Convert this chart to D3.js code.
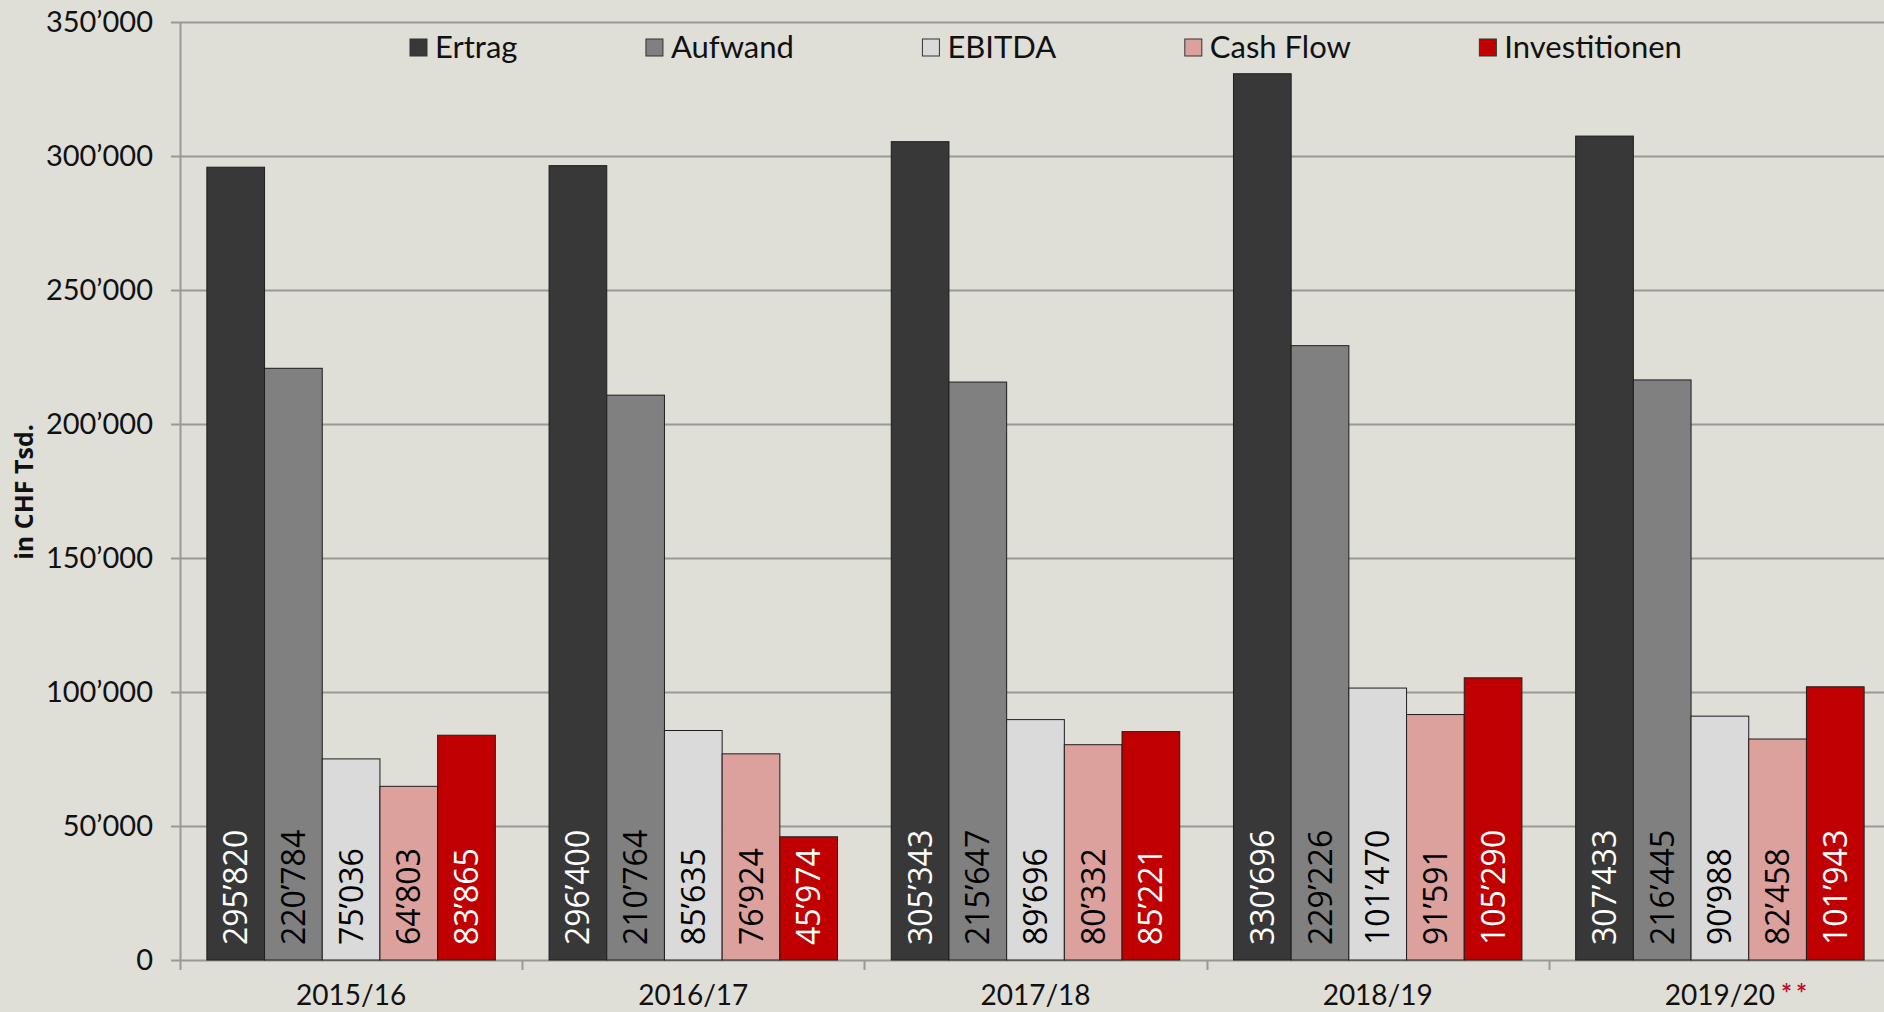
<!DOCTYPE html>
<html>
<head>
<meta charset="utf-8">
<script src="https://cdn.jsdelivr.net/npm/d3@7"></script>
<style>
  body { margin: 0; background: #dfded7; overflow: hidden; }
  svg { display: block; }
</style>
</head>
<body>
<svg width="1884" height="1012"></svg>
<script>
// data
var years = ["2015/16", "2016/17", "2017/18", "2018/19", "2019/20"];
var seriesNames = ["Ertrag", "Aufwand", "EBITDA", "Cash Flow", "Investitionen"];
var ertrag = [295820, 296400, 305343, 330696, 307433];
var aufwand = [220784, 210764, 215647, 229226, 216445];
var ebitda = [75036, 85635, 89696, 101470, 90988];
var cashFlow = [64803, 76924, 80332, 91591, 82458];
var investitionen = [83865, 45974, 85221, 105290, 101943];
var yTicks = [0, 50000, 100000, 150000, 200000, 250000, 300000, 350000];

var allSeries = [ertrag, aufwand, ebitda, cashFlow, investitionen];
var colors = ["#383838", "#808080", "#dadada", "#dca09d", "#c00000"];
var labelColors = ["#fff", "#000", "#000", "#000", "#fff"];

var svg = d3.select("svg"),
    width = +svg.attr("width"),
    height = +svg.attr("height");

var margin = {top: 22, right: -7, bottom: 52, left: 180};

var fmt = d3.formatLocale({decimal: ".", thousands: "\u2019", grouping: [3], currency: ["", ""]}).format(",d");

var x0 = d3.scaleBand()
    .domain(years)
    .range([margin.left, width - margin.right])
    .paddingInner(0.157)
    .paddingOuter(0.0785);

var x1 = d3.scaleBand()
    .domain(seriesNames)
    .range([0, x0.bandwidth()]);

var y = d3.scaleLinear()
    .domain([0, 350000])
    .range([height - margin.bottom, margin.top]);

var axisFont = "Lato, 'Open Sans', sans-serif";

// gridlines
svg.append("g")
    .selectAll("line")
    .data(yTicks)
    .enter().append("line")
    .attr("x1", margin.left - 9)
    .attr("x2", width)
    .attr("y1", function(d){ return Math.round(y(d)) + 0.5; })
    .attr("y2", function(d){ return Math.round(y(d)) + 0.5; })
    .attr("stroke", "#999996")
    .attr("stroke-width", 2);

// y axis line
svg.append("line")
    .attr("x1", margin.left + 0.5).attr("x2", margin.left + 0.5)
    .attr("y1", y(350000)).attr("y2", y(0) + 1)
    .attr("stroke", "#999996").attr("stroke-width", 2);

// y tick labels
svg.append("g")
    .selectAll("text")
    .data(yTicks)
    .enter().append("text")
    .attr("x", margin.left - 27)
    .attr("y", function(d){ return y(d); })
    .attr("dy", "0.35em")
    .attr("text-anchor", "end")
    .style("font", "29px " + axisFont)
    .attr("fill", "#111")
    .text(function(d){ return fmt(d); });

// x category boundary ticks
var bounds = years.map(function(d){ return x0(d) - x0.step() * x0.paddingOuter(); });
bounds.push(bounds[bounds.length - 1] + x0.step());
svg.append("g")
    .selectAll("line")
    .data(bounds)
    .enter().append("line")
    .attr("x1", function(d){ return Math.round(d) + 0.5; })
    .attr("x2", function(d){ return Math.round(d) + 0.5; })
    .attr("y1", y(0))
    .attr("y2", y(0) + 10)
    .attr("stroke", "#999996")
    .attr("stroke-width", 2);

// bars
var groups = svg.append("g")
    .selectAll("g")
    .data(years)
    .enter().append("g")
    .attr("transform", function(d){ return "translate(" + x0(d) + ",0)"; });

groups.selectAll("rect")
    .data(function(d, i){ return seriesNames.map(function(s, k){ return {key: s, k: k, value: allSeries[k][i]}; }); })
    .enter().append("rect")
    .attr("x", function(d){ return x1(d.key); })
    .attr("width", x1.bandwidth())
    .attr("y", function(d){ return y(d.value); })
    .attr("height", function(d){ return y(0) - y(d.value); })
    .attr("fill", function(d){ return colors[d.k]; })
    .attr("stroke", "#1e1e1e")
    .attr("stroke-width", 1);

groups.selectAll("text.val")
    .data(function(d, i){ return seriesNames.map(function(s, k){ return {key: s, k: k, value: allSeries[k][i]}; }); })
    .enter().append("text")
    .attr("class", "val")
    .attr("transform", function(d){
        return "translate(" + (x1(d.key) + x1.bandwidth() / 2) + "," + (y(0) - 15) + ") rotate(-90)"; })
    .attr("dy", "0.36em")
    .attr("text-anchor", "start")
    .style("font", "32px 'Open Sans', sans-serif")
    .attr("fill", function(d){ return labelColors[d.k]; })
    .text(function(d){ return fmt(d.value); });

// category labels
var cat = svg.append("g")
    .selectAll("text")
    .data(years)
    .enter().append("text")
    .attr("x", function(d){ return x0(d) + x0.bandwidth() / 2; })
    .attr("y", height - 7)
    .attr("text-anchor", "middle")
    .style("font", "28px " + axisFont)
    .attr("fill", "#111")
    .text(function(d){ return d; });

// red asterisks after the last year
var lastLabel = cat.filter(function(d, i){ return i === years.length - 1; });
var lastBox = lastLabel.node().getBBox();
svg.append("text")
    .attr("x", lastBox.x + lastBox.width + 6)
    .attr("y", height - 9)
    .attr("fill", "#c0102a")
    .style("font", "bold 26px " + axisFont)
    .style("letter-spacing", "4px")
    .text("**");

// y axis title
svg.append("text")
    .attr("transform", "translate(24,492) rotate(-90)")
    .attr("dy", "0.35em")
    .attr("text-anchor", "middle")
    .style("font", "bold 25px 'Open Sans', sans-serif")
    .attr("fill", "#111")
    .text("in CHF Tsd.");

// legend
var legend = svg.append("g");
var lx = 410;
seriesNames.forEach(function(name, k){
    var item = legend.append("g").attr("transform", "translate(" + lx + ",39)");
    item.append("rect")
        .attr("width", 17).attr("height", 17)
        .attr("fill", colors[k])
        .attr("stroke", "#333").attr("stroke-width", 1);
    var t = item.append("text")
        .attr("x", 25)
        .attr("y", 8.5)
        .attr("dy", "0.35em")
        .style("font", "31px " + axisFont)
        .attr("fill", "#111")
        .text(name);
    lx += 25 + t.node().getComputedTextLength() + 128.5;
});
</script>
</body>
</html>
